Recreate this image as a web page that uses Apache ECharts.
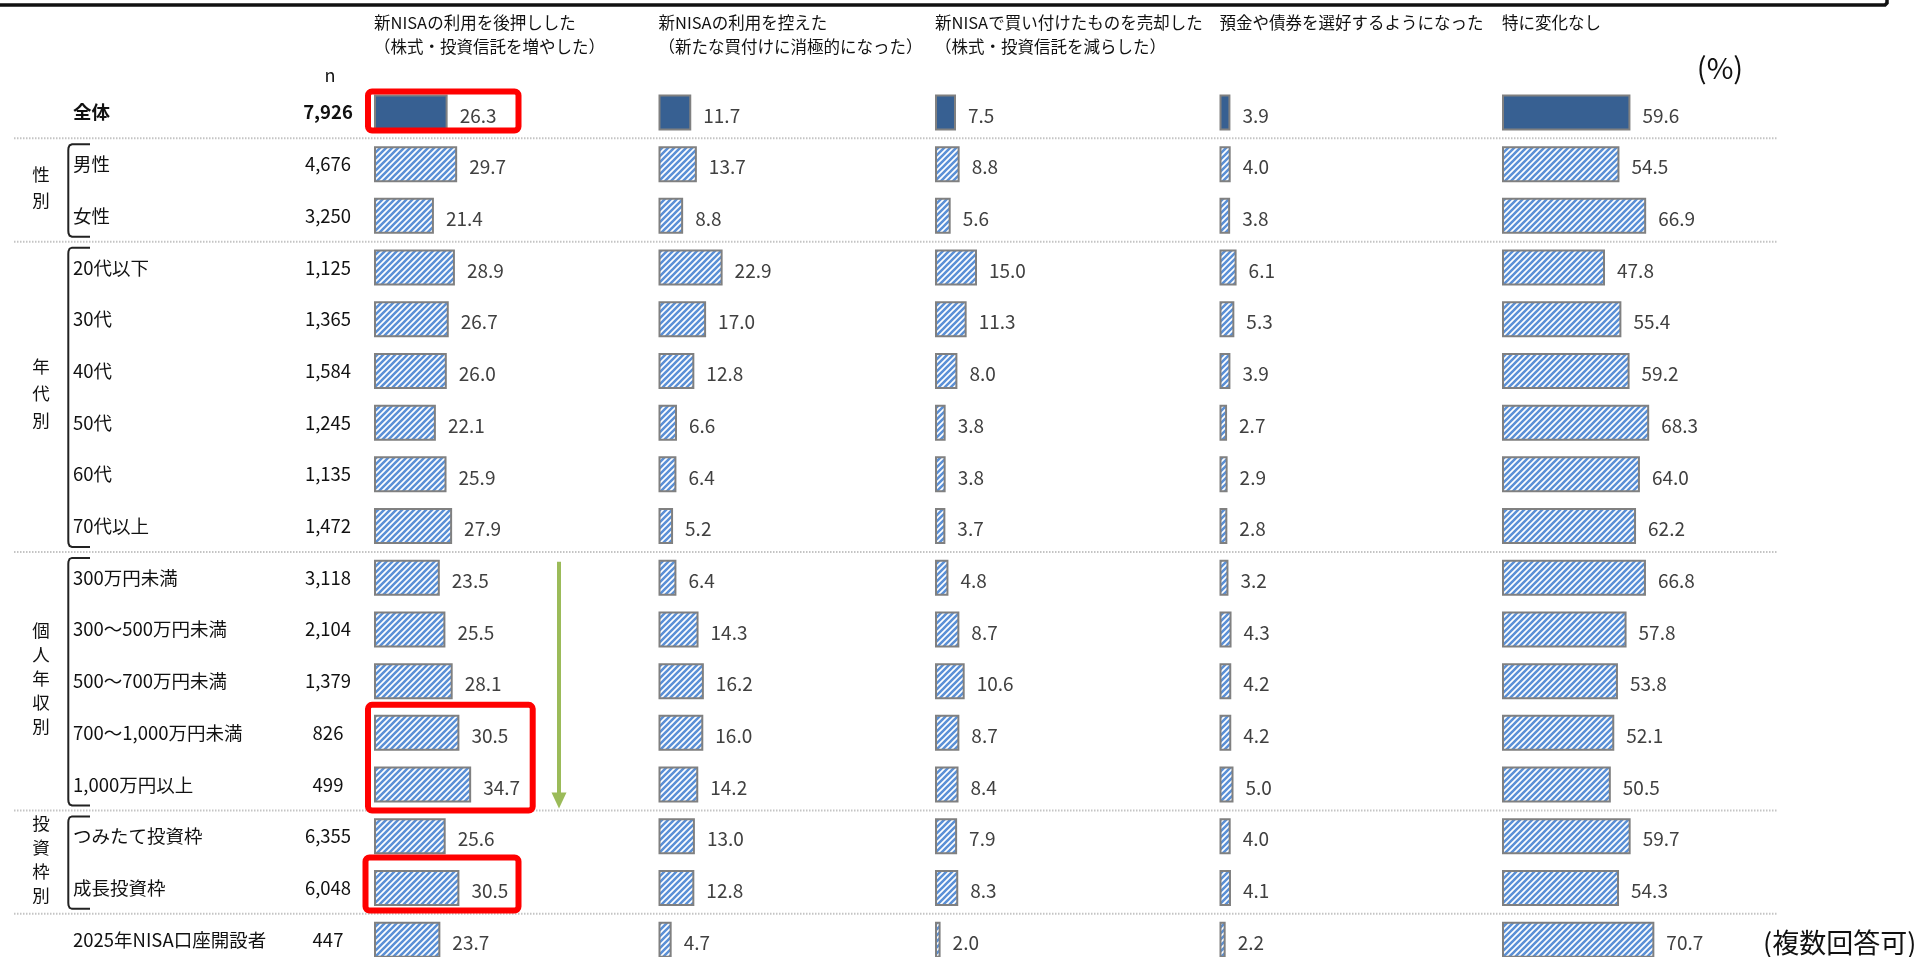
<!DOCTYPE html>
<html>
<head>
<meta charset="utf-8">
<script src="https://cdn.jsdelivr.net/npm/echarts@6/dist/echarts.min.js"></script>
<style>
  html, body { margin: 0; padding: 0; background: #fff; }
  #main { width: 1918px; height: 957px; }
</style>
</head>
<body>
<div id="main"></div>
<script>
// ---- data -------------------------------------------------------------
const categories = [
  '全体', '男性', '女性',
  '20代以下', '30代', '40代', '50代', '60代', '70代以上',
  '300万円未満', '300～500万円未満', '500～700万円未満', '700～1,000万円未満', '1,000万円以上',
  'つみたて投資枠', '成長投資枠',
  '2025年NISA口座開設者'
];
const sampleSizes = [
  '7,926', '4,676', '3,250',
  '1,125', '1,365', '1,584', '1,245', '1,135', '1,472',
  '3,118', '2,104', '1,379', '826', '499',
  '6,355', '6,048',
  '447'
];
const boosted        = [26.3, 29.7, 21.4, 28.9, 26.7, 26.0, 22.1, 25.9, 27.9, 23.5, 25.5, 28.1, 30.5, 34.7, 25.6, 30.5, 23.7];
const restrained     = [11.7, 13.7, 8.8, 22.9, 17.0, 12.8, 6.6, 6.4, 5.2, 6.4, 14.3, 16.2, 16.0, 14.2, 13.0, 12.8, 4.7];
const soldHoldings   = [7.5, 8.8, 5.6, 15.0, 11.3, 8.0, 3.8, 3.8, 3.7, 4.8, 8.7, 10.6, 8.7, 8.4, 7.9, 8.3, 2.0];
const preferDeposits = [3.9, 4.0, 3.8, 6.1, 5.3, 3.9, 2.7, 2.9, 2.8, 3.2, 4.3, 4.2, 4.2, 5.0, 4.0, 4.1, 2.2];
const noChange       = [59.6, 54.5, 66.9, 47.8, 55.4, 59.2, 68.3, 64.0, 62.2, 66.8, 57.8, 53.8, 52.1, 50.5, 59.7, 54.3, 70.7];

const columnTitles = [
  '新NISAの利用を後押しした\n（株式・投資信託を増やした）',
  '新NISAの利用を控えた\n（新たな買付けに消極的になった）',
  '新NISAで買い付けたものを売却した\n（株式・投資信託を減らした）',
  '預金や債券を選好するようになった',
  '特に変化なし'
];
const groupNames = ['性別', '年代別', '個人年収別', '投資枠別'];
const groupRows  = [[1, 2], [3, 8], [9, 13], [14, 15]];
const separatorAfter = [0, 2, 8, 13, 15];

// ---- layout -----------------------------------------------------------
const FONT = '"Noto Sans CJK JP", "Noto Sans", sans-serif';
const colLeft  = [374, 658.5, 935, 1219.5, 1502];
const colWidth = [280, 280, 280, 280, 215.5];   // width of 0–100 % on each column
const gridTop = 86.6, bandH = 51.7;
const gridHeight = bandH * categories.length;

function stripeTile() {
  const s = 6;
  const c = document.createElement('canvas');
  c.width = s; c.height = s;
  const g = c.getContext('2d');
  g.fillStyle = '#ffffff';
  g.fillRect(0, 0, s, s);
  g.strokeStyle = '#5b90d6';
  g.lineWidth = 2.6;
  g.beginPath();
  g.moveTo(-1, s + 1); g.lineTo(s + 1, -1);
  g.moveTo(-1, 1); g.lineTo(1, -1);
  g.moveTo(s - 1, s + 1); g.lineTo(s + 1, s - 1);
  g.stroke();
  return c;
}
const stripes = { image: stripeTile(), repeat: 'repeat' };
const solidBlue = '#376092';

const seriesValues = [boosted, restrained, soldHoldings, preferDeposits, noChange];

const chart = echarts.init(document.getElementById('main'), null, { renderer: 'canvas' });

const grids = [], xAxes = [], yAxes = [], series = [];
seriesValues.forEach((vals, i) => {
  grids.push({ left: colLeft[i], top: gridTop, width: colWidth[i], height: gridHeight, outerBoundsMode: 'none', containLabel: false });
  xAxes.push({ type: 'value', gridIndex: i, min: 0, max: 100, show: false });
  const y = {
    type: 'category', gridIndex: i, data: categories, inverse: true,
    axisLine: { show: false }, axisTick: { show: false }, splitLine: { show: false },
    axisLabel: { show: false }
  };
  if (i === 0) {
    y.axisLabel = {
      show: true, interval: 0, align: 'left', margin: colLeft[0] - 73,
      formatter: (v, idx) => idx === 0
        ? `{nb|${v}}{cb|${sampleSizes[idx]}}`
        : `{n|${v}}{c|${sampleSizes[idx]}}`,
      rich: {
        n:  { width: 225, align: 'left',   fontSize: 18.5, color: '#111', fontFamily: FONT },
        nb: { width: 225, align: 'left',   fontSize: 18.5, color: '#111', fontFamily: FONT, fontWeight: 'bold' },
        c:  { width: 60,  align: 'center', fontSize: 18.5, color: '#111', fontFamily: FONT },
        cb: { width: 60,  align: 'center', fontSize: 18.5, color: '#111', fontFamily: FONT, fontWeight: 'bold' }
      }
    };
  }
  yAxes.push(y);
  series.push({
    type: 'bar', xAxisIndex: i, yAxisIndex: i, barWidth: 36,
    data: vals.map((v, k) => k === 0 ? { value: v, itemStyle: { color: solidBlue } } : v),
    itemStyle: { color: stripes, borderColor: '#808080', borderWidth: 2 },
    label: {
      show: true, position: 'right', distance: 12, offset: [0, 3],
      formatter: p => Number(p.value).toFixed(1),
      fontSize: 19, color: '#404040', fontFamily: FONT
    },
    emphasis: { disabled: true },
    animation: false
  });
});

chart.setOption({
  animation: false,
  textStyle: { fontFamily: FONT },
  grid: grids, xAxis: xAxes, yAxis: yAxes, series: series
});

// ---- annotations ------------------------------------------------------
const rowY = i => chart.convertToPixel({ yAxisIndex: 0 }, categories[i]);
const half = bandH / 2;
const graphics = [];

// outer frame edge along the top
graphics.push({
  type: 'polyline', shape: { points: [[0, 5], [1885, 5], [1887, 3], [1887, -4]] },
  style: { stroke: '#111', lineWidth: 3.5, fill: null }
});

// column headings
columnTitles.forEach((t, i) => {
  graphics.push({
    type: 'text', x: colLeft[i], y: 11,
    style: { text: t, font: `16.5px ${FONT}`, fill: '#111', lineHeight: 24, textAlign: 'left', textVerticalAlign: 'top' }
  });
});
graphics.push({ type: 'text', x: 330, y: 75, style: { text: 'n', font: `18px ${FONT}`, fill: '#111', textAlign: 'center', textVerticalAlign: 'middle' } });
graphics.push({ type: 'text', x: 1720, y: 68, style: { text: '(%)', font: `29px ${FONT}`, fill: '#111', textAlign: 'center', textVerticalAlign: 'middle' } });
graphics.push({ type: 'text', x: 1763, y: 943, style: { text: '(複数回答可)', font: `27px ${FONT}`, fill: '#111', textAlign: 'left', textVerticalAlign: 'middle' } });

// dotted separators between groups
separatorAfter.forEach(i => {
  const y = rowY(i) + half;
  graphics.push({
    type: 'line', shape: { x1: 14, y1: y, x2: 1778, y2: y },
    style: { stroke: '#c4c4c4', lineWidth: 2, lineDash: [1.5, 1.5] }
  });
});

// group brackets and vertical group names
groupRows.forEach(([a, b], g) => {
  const top = rowY(a) - half + 6, bot = rowY(b) + half - 5;
  graphics.push({
    type: 'polyline',
    shape: { points: [[90, top], [72, top], [69.6, top + 1], [68.5, top + 3.5], [68.3, top + 6],
                      [68.3, bot - 6], [68.5, bot - 3.5], [69.6, bot - 1], [72, bot], [90, bot]] },
    style: { stroke: '#222', lineWidth: 2, fill: null }
  });
  const mid = (rowY(a) + rowY(b)) / 2;
  graphics.push({
    type: 'text', x: 41, y: mid - 3,
    style: { text: groupNames[g].split('').join('\n'), font: `17.5px ${FONT}`, fill: '#111',
             lineHeight: g === 1 ? 27 : (g === 0 ? 26 : 24), textAlign: 'center', textVerticalAlign: 'middle' }
  });
});

// highlight boxes
const redBox = (x1, y1, x2, y2) => ({
  type: 'rect', shape: { x: x1, y: y1, width: x2 - x1, height: y2 - y1, r: 4 },
  style: { fill: null, stroke: '#ff0000', lineWidth: 6 }, z: 10
});
graphics.push(redBox(368, rowY(0) - 21, 518.5, rowY(0) + 18));
graphics.push(redBox(368, rowY(12) - 28, 532.7, rowY(13) + 26));
graphics.push(redBox(365.5, rowY(15) - 30.5, 518.5, rowY(15) + 22.5));

// trend arrow through the income bands
const ax = 559, ay1 = rowY(9) - 16, ay2 = rowY(13) + 24;
graphics.push({ type: 'line', shape: { x1: ax, y1: ay1, x2: ax, y2: ay2 - 14 }, style: { stroke: '#9bbb59', lineWidth: 4 } });
graphics.push({ type: 'polygon', shape: { points: [[ax - 7.5, ay2 - 16], [ax + 7.5, ay2 - 16], [ax, ay2]] }, style: { fill: '#9bbb59' } });

chart.setOption({ graphic: { elements: graphics } });
</script>
</body>
</html>
